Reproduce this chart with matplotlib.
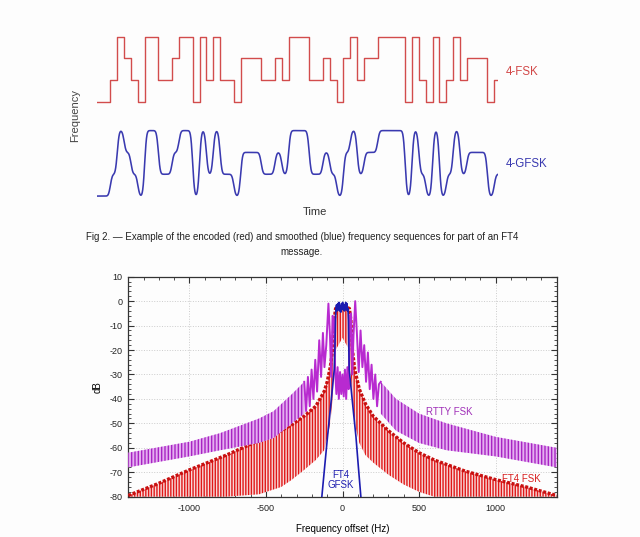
# -*- coding: utf-8 -*-
"""
ft4 fsk / gfsk figure
"""
#%% Imports

import math
import matplotlib.pyplot as plt
import numpy as np

plt.rcParams['font.family'] = ['Liberation Sans', 'DejaVu Sans']
plt.rcParams['axes.unicode_minus'] = False
plt.rcParams['hatch.linewidth'] = 1.0


#%% Data - top: tone sequence (0..3), last symbol only half shown

symbols = [0, 0, 1, 3, 2, 1, 0, 3, 3, 1, 1, 2, 3, 3, 0, 3, 1, 3, 1, 1,
           0, 2, 2, 2, 1, 1, 2, 1, 3, 3, 3, 1, 1, 2, 1, 0, 2, 3, 1, 2,
           2, 3, 3, 3, 3, 0, 3, 1, 0, 3, 0, 1, 3, 1, 2, 2, 2, 0, 1]

#%% Data - bottom: spectra (Hz, dB)

# FT4 FSK: peak envelope and bottom of the nulls
red_f = [-1400, -1200, -1000, -760, -545, -400, -330, -250, -175, -120, -100,
         -80, -65, -55, -45, 0, 45, 55, 65, 80, 110, 150, 200, 300, 400,
         500, 600, 800, 1000, 1200, 1400]
red_top = [-79.5, -74.5, -69, -63, -57, -53, -50.5, -47, -43, -37, -33,
           -27, -20, -8, -3, -2, -3, -8, -20, -28, -36, -42, -47, -53, -58,
           -62, -65, -69.5, -73, -76, -79.5]
red_bot = [-80, -80, -80, -80, -79, -76, -73, -69, -65, -61, -56,
           -50, -40, -30, -20, -15, -20, -30, -40, -50, -58, -63, -66, -71, -75,
           -78, -80, -80, -80, -80, -80]

# RTTY FSK: ripple band outside the main lobes
rtty_band_f = [-1400, -1000, -800, -545, -450, -330, -250,
               250, 350, 500, 680, 1000, 1400]
rtty_band_top = [-62, -57.5, -54, -48, -45, -38, -33,
                 -33, -40, -46, -50, -55.5, -60]
rtty_band_bot = [-68, -63.5, -61, -58, -56, -50, -46,
                 -46, -53, -58, -61, -63.5, -68]

# RTTY FSK: lobes around the mark/space tones
rtty_f = [-250, -238, -226, -214, -202, -190, -178, -166, -152, -140, -128,
          -118, -106, -92, -82, -74, -65, -56, -48, -40, -32, -24, -16, -8,
          0, 8, 16, 24, 32, 40, 48, 56, 64, 72, 83, 94, 106, 118, 130, 142,
          154, 166, 178, 190, 202, 214, 226, 238, 250]
rtty_db = [-33, -45, -31, -43, -28, -40, -24, -37, -16, -31, -13,
           -27, -18, -1, -14, -31, -6, -7, -28, -38, -27, -40, -29, -38,
           -30, -39, -28, -40, -27, -36, -6, -5, -30, -14, 0, -13, -29, -12, -27, -18,
           -33, -21, -36, -26, -40, -30, -43, -34, -33]

# FT4 GFSK
gfsk_f = [-135, -117, -98, -76, -54, -49, -46, -43, -39, -35, -31, -27, -23,
          -19, -15, -11, -7, -3, 1, 5, 9, 13, 17, 21, 25, 29, 33, 36,
          39, 41, 44, 66, 88, 104, 120]
gfsk_db = [-80, -68, -55.5, -42, -28, -18, -8, -3, -1.5, -4, -1, -3.5, -0.5,
           -4, -2, -4.5, -1, -3, -0.5, -3.5, -1.5, -4, -2, -0.5, -3.5, -1, -4, -3,
           -8, -18, -28, -42, -55.5, -68, -80]


#%% Figure

fig = plt.figure(figsize=(6.4, 5.37), dpi=100, facecolor='#fdfdfd')

# ---- top: symbol sequences
top = fig.add_axes([96.7/640, 1-200/537, 401/640, 170/537])
top.set_axis_off()
n = len(symbols)
xs = np.append(np.arange(n), n - 0.5)
red_off = 4.31
top.step(xs, np.array(symbols + [symbols[-1]]) + red_off, where='post',
         color='#d24c4c', lw=1.0)

# gaussian smoothed version of the same sequence
erf = np.vectorize(math.erf)
c = 3.2
t = np.linspace(0, n - 0.5, 1500)
pad = [symbols[0]]*3 + symbols + [symbols[-1]]*3
sm = np.zeros_like(t)
for k, s in enumerate(pad):
    k0 = k - 3
    sm += s * 0.5 * (erf(c*(t - k0)) - erf(c*(t - k0 - 1)))
top.plot(t, sm, color='#3a3ab0', lw=1.15)
top.set_xlim(0, n - 0.5)
top.set_ylim(-0.18, 7.61)

fig.text(75/640, 1-115/537, 'Frequency', rotation=90, ha='center', va='center',
         fontsize=8, color='#444444')
fig.text(315/640, 1-212/537, 'Time', ha='center', va='center', fontsize=8,
         color='#333333')
fig.text(506/640, 1-72/537, '4-FSK', ha='left', va='center', fontsize=8.3,
         color='#d24848')
fig.text(506/640, 1-164/537, '4-GFSK', ha='left', va='center', fontsize=8.3,
         color='#3a3ab0')

fig.text(302/640, 1-237/537, 'Fig 2. \u2014 Example of the encoded (red) and smoothed (blue) '
         'frequency sequences for part of an FT4', ha='center', va='center',
         fontsize=7, color='#222222')
fig.text(302/640, 1-252/537, 'message.', ha='center', va='center', fontsize=7,
         color='#222222')

# ---- bottom: spectra
ax = fig.add_axes([128.3/640, 1-496.7/537, 428.4/640, 220/537])
ax.set_facecolor('#fdfdfd')

ax.fill_between(red_f, red_bot, red_top, facecolor='#f8d8d8', edgecolor='#e01818',
                hatch='||||||', linewidth=0, zorder=2)
ax.plot(red_f, red_top, color='#c81010', lw=2.4, ls=(0, (0.9, 0.5)), zorder=3)

bf = np.array(rtty_band_f)
for side in (bf < 0, bf > 0):
    ax.fill_between(bf, rtty_band_bot, rtty_band_top, where=side,
                    facecolor='#e4b0f0', edgecolor='#a824c4', hatch='|||||',
                    linewidth=0, zorder=4)
ax.plot(rtty_f, rtty_db, color='#b82ad0', lw=1.4, zorder=5)

ax.plot(gfsk_f, gfsk_db, color='#1c1cb0', lw=1.2, zorder=6)

ax.text(698, -45.4, 'RTTY FSK', color='#a030b8', fontsize=7, ha='center', va='center')
ax.text(1169, -72.8, 'FT4 FSK', color='#d82020', fontsize=7, ha='center', va='center')
ax.text(-10, -73, 'FT4\nGFSK', color='#2020b0', fontsize=7, ha='center', va='center',
        linespacing=1.0)

ax.set_xlim(-1400, 1400)
ax.set_ylim(-80, 10)
ax.set_xticks([-1000, -500, 0, 500, 1000])
ax.set_xticks(np.arange(-1400, 1401, 100), minor=True)
ax.set_yticks(np.arange(-80, 11, 10))
ax.set_yticks(np.arange(-80, 11, 2), minor=True)
ax.tick_params(which='both', direction='in', top=True, right=True, labelsize=6.5,
               color='#333333', labelcolor='#222222')
ax.tick_params(which='major', length=4, width=0.8)
ax.tick_params(which='minor', length=2, width=0.6)
ax.tick_params(axis='y', pad=4)
ax.tick_params(axis='x', pad=5)
ax.grid(True, which='major', ls=':', color='#cccccc', lw=0.7)
ax.set_axisbelow(True)
for s in ax.spines.values():
    s.set_color('#333333')
    s.set_linewidth(0.9)
ax.set_ylabel('dB', fontsize=7, labelpad=5)
ax.set_xlabel('Frequency offset (Hz)', fontsize=7, labelpad=8)

fig.savefig('out.png', dpi=100, facecolor=fig.get_facecolor())
